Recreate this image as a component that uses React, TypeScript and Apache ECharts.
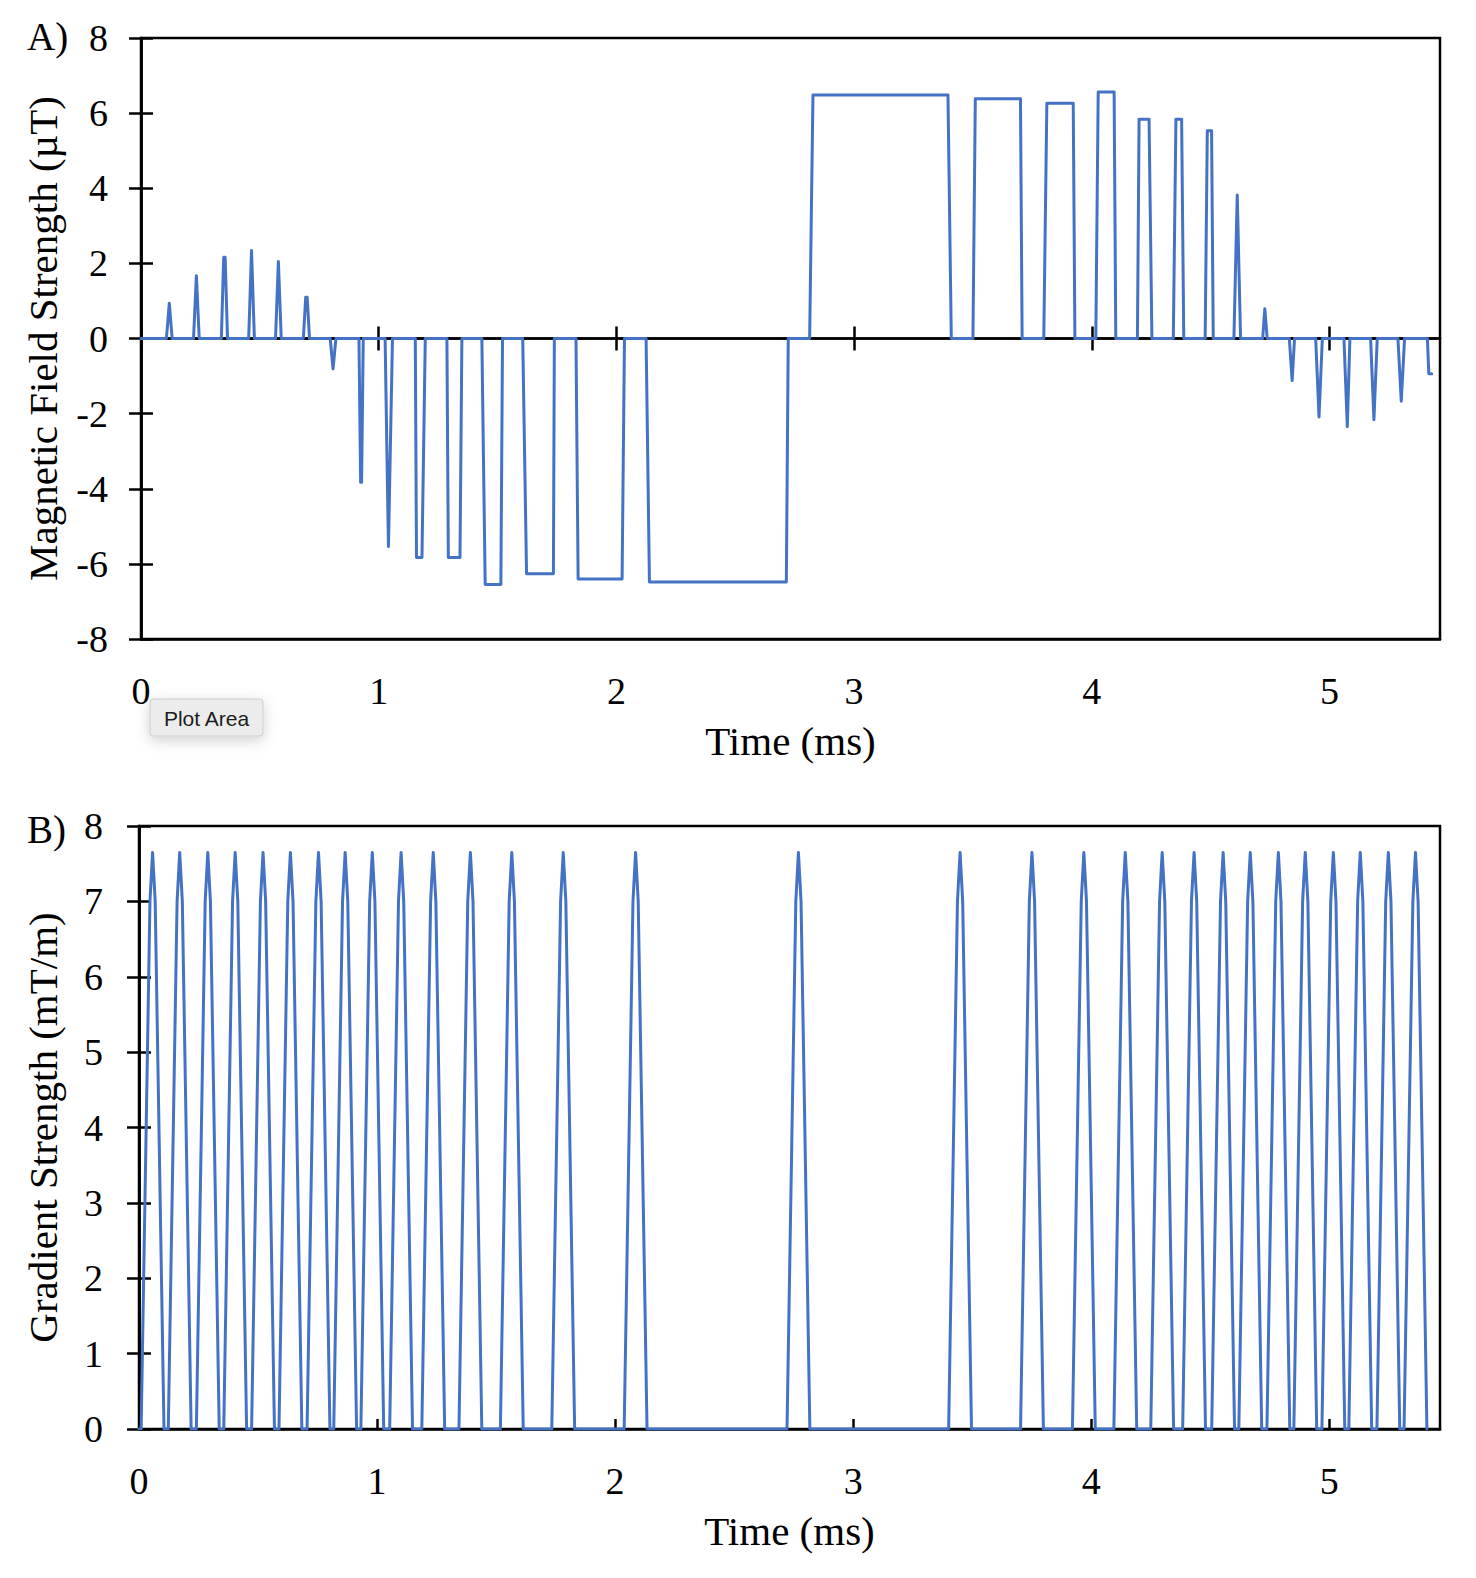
import { useEffect, useRef } from "react";
import * as echarts from "echarts";

// ---------- Panel A: magnetic field strength (µT) vs time (ms) ----------
const fieldTimes = [
  0,
  0.107, 0.119, 0.131,
  0.221, 0.233, 0.245,
  0.338, 0.348, 0.354, 0.364,
  0.453, 0.465, 0.477,
  0.566, 0.578, 0.59,
  0.683, 0.693, 0.699, 0.709,
  0.796, 0.808, 0.82,
  0.917, 0.924, 0.928, 0.935,
  1.027, 1.041, 1.058,
  1.154, 1.159, 1.182, 1.196,
  1.287, 1.293, 1.342, 1.35,
  1.434, 1.448, 1.514, 1.521,
  1.606, 1.622, 1.735, 1.739,
  1.83, 1.839, 2.024, 2.034,
  2.125, 2.139, 2.715, 2.723,
  2.813, 2.827, 3.395, 3.409,
  3.5, 3.51, 3.7, 3.707,
  3.798, 3.811, 3.922, 3.929,
  4.017, 4.027, 4.094, 4.101,
  4.192, 4.199, 4.241, 4.253,
  4.343, 4.354, 4.378, 4.387,
  4.477, 4.486, 4.504, 4.511,
  4.598, 4.612, 4.626,
  4.719, 4.728, 4.738,
  4.831, 4.843, 4.853,
  4.942, 4.956, 4.97,
  5.061, 5.075, 5.086,
  5.173, 5.187, 5.201,
  5.288, 5.302, 5.316,
  5.412, 5.418, 5.43,
];
const fieldValues = [
  0,
  0, 0.94, 0,
  0, 1.67, 0,
  0, 2.16, 2.16, 0,
  0, 2.34, 0,
  0, 2.05, 0,
  0, 1.1, 1.1, 0,
  0, -0.81, 0,
  0, -3.83, -3.83, 0,
  0, -5.54, 0,
  0, -5.83, -5.83, 0,
  0, -5.83, -5.83, 0,
  0, -6.55, -6.55, 0,
  0, -6.26, -6.26, 0,
  0, -6.4, -6.4, 0,
  0, -6.48, -6.48, 0,
  0, 6.48, 6.48, 0,
  0, 6.38, 6.38, 0,
  0, 6.26, 6.26, 0,
  0, 6.56, 6.56, 0,
  0, 5.84, 5.84, 0,
  0, 5.84, 5.84, 0,
  0, 5.53, 5.53, 0,
  0, 3.82, 0,
  0, 0.79, 0,
  0, -1.12, 0,
  0, -2.09, 0,
  0, -2.35, 0,
  0, -2.16, 0,
  0, -1.67, 0,
  0, -0.94, -0.94,
];

// ---------- Panel B: gradient strength (mT/m) triangular pulses ----------
const gradStart = [
  0.009, 0.123, 0.241, 0.356, 0.473, 0.588, 0.706, 0.818, 0.932, 1.053,
  1.188, 1.344, 1.518, 1.734, 2.038, 2.722, 3.401, 3.703, 3.921, 4.095,
  4.25, 4.384, 4.506, 4.62, 4.738, 4.851, 4.969, 5.082, 5.2, 5.314,
];
const gradPeak = [
  0.057, 0.171, 0.289, 0.404, 0.521, 0.636, 0.754, 0.866, 0.98, 1.101,
  1.236, 1.392, 1.566, 1.782, 2.086, 2.77, 3.449, 3.751, 3.969, 4.143,
  4.298, 4.432, 4.554, 4.668, 4.786, 4.899, 5.017, 5.13, 5.248, 5.362,
];
const gradEnd = [
  0.105, 0.219, 0.337, 0.452, 0.569, 0.684, 0.802, 0.914, 1.028, 1.149,
  1.284, 1.44, 1.614, 1.83, 2.134, 2.818, 3.497, 3.799, 4.017, 4.191,
  4.346, 4.48, 4.602, 4.716, 4.834, 4.947, 5.065, 5.178, 5.296, 5.41,
];
const GRAD_MAX = 7.65;
const GRAD_KNEE = 7.0;
const GRAD_KNEE_DT = 0.011;

const xMax = 5.465;
const xTickValues = [0, 1, 2, 3, 4, 5];
const yTicksA = { min: -8, max: 8, interval: 2 };
const yTicksB = { min: 0, max: 8, interval: 1 };

const FONT = "'Liberation Serif', 'Times New Roman', serif";
const BLACK = "#000000";
const BLUE = "#4472C4";

export default function App() {
  const ref = useRef<HTMLDivElement>(null);

  useEffect(() => {
    if (!ref.current) return;
    const chart = echarts.init(ref.current, undefined, { renderer: "svg" });

    const fieldData = fieldTimes.map((t, i) => [t, fieldValues[i]]);
    const gradData: number[][] = [[0, 0]];
    gradPeak.forEach((p, i) => {
      gradData.push([gradStart[i], 0]);
      gradData.push([p - GRAD_KNEE_DT, GRAD_KNEE]);
      gradData.push([p, GRAD_MAX]);
      gradData.push([p + GRAD_KNEE_DT, GRAD_KNEE]);
      gradData.push([gradEnd[i], 0]);
    });

    const lineSt = { color: BLACK, width: 2.5 };
    const labelSt = { fontSize: 38, color: BLACK, fontFamily: FONT };
    const nameSt = { fontSize: 41, color: BLACK, fontFamily: FONT };

    const xBase = (gridIndex: number) => ({
      type: "value",
      gridIndex,
      min: 0,
      max: xMax,
      interval: 1,
      position: "bottom",
      splitLine: { show: false },
    });

    const option: any = {
      animation: false,
      backgroundColor: "#ffffff",
      textStyle: { fontFamily: FONT, color: BLACK },
      grid: [
        { left: 141, top: 38, width: 1299, height: 601, show: true, borderColor: BLACK, borderWidth: 2.5, backgroundColor: "transparent" },
        { left: 139, top: 826, width: 1301, height: 603, show: true, borderColor: BLACK, borderWidth: 2.5, backgroundColor: "transparent" },
      ],
      xAxis: [
        {
          ...xBase(0),
          axisLine: { show: true, onZero: false, lineStyle: lineSt },
          axisTick: { show: false },
          axisLabel: { ...labelSt, margin: 33, customValues: xTickValues, formatter: (v: number) => String(v) },
          name: "Time (ms)",
          nameLocation: "middle",
          nameGap: 81,
          nameTextStyle: nameSt,
        },
        {
          ...xBase(0),
          axisLine: { show: true, onZero: true, onZeroAxisIndex: 0, lineStyle: lineSt },
          axisTick: { show: true, inside: false, length: 12, lineStyle: lineSt, customValues: xTickValues },
          axisLabel: { show: false },
        },
        {
          ...xBase(0),
          axisLine: { show: true, onZero: true, onZeroAxisIndex: 0, lineStyle: lineSt },
          axisTick: { show: true, inside: true, length: 12, lineStyle: lineSt, customValues: xTickValues },
          axisLabel: { show: false },
        },
        {
          ...xBase(1),
          axisLine: { show: true, onZero: false, lineStyle: lineSt },
          axisTick: { show: true, inside: true, length: 10, lineStyle: lineSt, customValues: xTickValues },
          axisLabel: { ...labelSt, margin: 33, customValues: xTickValues, formatter: (v: number) => String(v) },
          name: "Time (ms)",
          nameLocation: "middle",
          nameGap: 81,
          nameTextStyle: nameSt,
        },
      ],
      yAxis: [
        {
          type: "value",
          gridIndex: 0,
          ...yTicksA,
          position: "left",
          axisLine: { show: true, onZero: false, lineStyle: lineSt },
          axisTick: { show: true, inside: false, length: 12, lineStyle: lineSt },
          axisLabel: { ...labelSt, margin: 33 },
          splitLine: { show: false },
          name: "Magnetic Field Strength (µT)",
          nameLocation: "middle",
          nameGap: 78,
          nameTextStyle: nameSt,
        },
        {
          type: "value",
          gridIndex: 0,
          ...yTicksA,
          position: "left",
          axisLine: { show: true, onZero: false, lineStyle: lineSt },
          axisTick: { show: true, inside: true, length: 12, lineStyle: lineSt },
          axisLabel: { show: false },
          splitLine: { show: false },
        },
        {
          type: "value",
          gridIndex: 1,
          ...yTicksB,
          position: "left",
          axisLine: { show: true, onZero: false, lineStyle: lineSt },
          axisTick: { show: true, inside: false, length: 12, lineStyle: lineSt },
          axisLabel: { ...labelSt, margin: 36 },
          splitLine: { show: false },
          name: "Gradient Strength (mT/m)",
          nameLocation: "middle",
          nameGap: 76,
          nameTextStyle: nameSt,
        },
        {
          type: "value",
          gridIndex: 1,
          ...yTicksB,
          position: "left",
          axisLine: { show: true, onZero: false, lineStyle: lineSt },
          axisTick: { show: true, inside: true, length: 12, lineStyle: lineSt },
          axisLabel: { show: false },
          splitLine: { show: false },
        },
      ],
      series: [
        {
          type: "line",
          xAxisIndex: 0,
          yAxisIndex: 0,
          data: fieldData,
          showSymbol: false,
          symbol: "none",
          lineStyle: { color: BLUE, width: 3, join: "round", cap: "round" },
          z: 5,
        },
        {
          type: "line",
          xAxisIndex: 3,
          yAxisIndex: 2,
          data: gradData,
          showSymbol: false,
          symbol: "none",
          lineStyle: { color: BLUE, width: 3, join: "round", cap: "round" },
          z: 5,
        },
      ],
      graphic: [
        {
          type: "text",
          x: 27,
          y: 36,
          style: { text: "A)", font: `39px ${FONT}`, fill: BLACK, align: "left", verticalAlign: "middle" },
        },
        {
          type: "text",
          x: 27,
          y: 829,
          style: { text: "B)", font: `39px ${FONT}`, fill: BLACK, align: "left", verticalAlign: "middle" },
        },
        {
          type: "group",
          z: 100,
          children: [
            {
              type: "rect",
              shape: { x: 150, y: 699, width: 113, height: 37, r: 3 },
              style: {
                fill: "#ececec",
                stroke: "#cccccc",
                lineWidth: 1,
                shadowBlur: 14,
                shadowColor: "rgba(0,0,0,0.18)",
                shadowOffsetY: 4,
              },
            },
            {
              type: "text",
              x: 206.5,
              y: 718,
              style: {
                text: "Plot Area",
                font: "21px 'Liberation Sans', Arial, sans-serif",
                fill: "#1c1c1c",
                align: "center",
                verticalAlign: "middle",
              },
            },
          ],
        },
      ],
    };

    chart.setOption(option);
    return () => chart.dispose();
  }, []);

  return (
    <div
      ref={ref}
      style={{ position: "absolute", left: 0, top: 0, width: 1476, height: 1578, background: "#fff" }}
    />
  );
}
